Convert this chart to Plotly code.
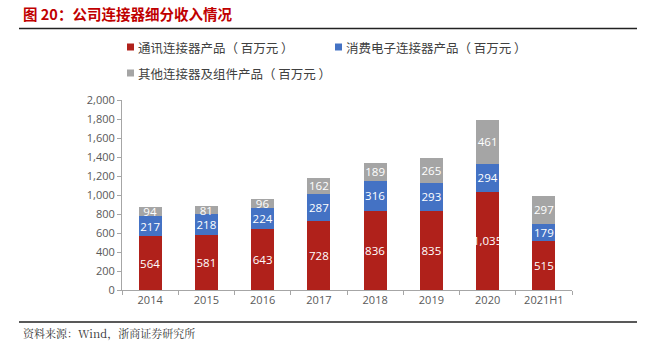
import plotly.graph_objects as go

categories = ["2014", "2015", "2016", "2017", "2018", "2019", "2020", "2021H1"]
telecom = [564, 581, 643, 728, 836, 835, 1035, 515]
consumer = [217, 218, 224, 287, 316, 293, 294, 179]
other = [94, 81, 96, 162, 189, 265, 461, 297]
series_names = ["通讯连接器产品（ 百万元 ）", "消费电子连接器产品（ 百万元 ）", "其他连接器及组件产品（ 百万元 ）"]
colors = ["#B0211B", "#4472C4", "#A5A5A5"]

FONT = "Noto Sans CJK SC"

fig = go.Figure()
for name, vals, col in zip(series_names, [telecom, consumer, other], colors):
    fig.add_trace(go.Bar(
        x=categories, y=vals, name=name, marker_color=col, marker_line_width=0,
        text=vals, texttemplate="%{y:,}", textposition="inside", textangle=0,
        insidetextanchor="middle", constraintext="none",
        textfont=dict(color="white", size=11.5, family="Open Sans"),
    ))

fig.update_layout(
    barmode="stack", bargap=0.59,
    width=656, height=345,
    margin=dict(l=122, r=84, t=100, b=55),
    paper_bgcolor="white", plot_bgcolor="white",
    font=dict(family=FONT, color="#595959", size=11),
    showlegend=False,
    xaxis=dict(type="category", showline=True, linecolor="#A6A6A6", linewidth=1,
               ticks="outside", tickson="boundaries", ticklen=4, tickcolor="#A6A6A6",
               tickfont=dict(size=11, color="#595959", family="Open Sans"), range=[-0.5, 7.5]),
    yaxis=dict(range=[0, 2000], dtick=200, tickformat=",", showgrid=False,
               showline=True, linecolor="#A6A6A6", linewidth=1,
               ticks="outside", ticklen=4, tickcolor="#A6A6A6",
               tickfont=dict(size=11, color="#595959", family="Open Sans"), zeroline=False),
)

# title and source
fig.add_annotation(xref="paper", yref="paper", x=-0.224, y=1.0 + (100 - 14) / 190,
                   xanchor="left", yanchor="middle", showarrow=False,
                   text="<b>图 20：公司连接器细分收入情况</b>",
                   font=dict(size=14.5, color="#C00000", family=FONT))
fig.add_annotation(xref="paper", yref="paper", x=-0.224, y=-(333 - 290) / 190,
                   xanchor="left", yanchor="middle", showarrow=False,
                   text="资料来源：Wind，浙商证券研究所",
                   font=dict(size=11, color="#333333", family="Noto Serif CJK SC, serif"))

# rules
for yy in [28.5, 322]:
    fig.add_shape(type="line", xref="paper", yref="paper",
                  x0=(19 - 122) / 450, x1=(637 - 122) / 450,
                  y0=(290 - yy) / 190, y1=(290 - yy) / 190,
                  line=dict(color="#222222", width=1.5))

# custom legend
legend_pos = [(127, 47), (335, 47), (127, 73)]
for (lx, ly), name, col in zip(legend_pos, series_names, colors):
    fig.add_shape(type="rect", xref="paper", yref="paper",
                  x0=(lx - 122) / 450, x1=(lx + 7 - 122) / 450,
                  y0=(290 - ly - 3.5) / 190, y1=(290 - ly + 3.5) / 190,
                  fillcolor=col, line_width=0)
    fig.add_annotation(xref="paper", yref="paper", x=(lx + 9 - 122) / 450,
                       y=(290 - ly) / 190, xanchor="left", yanchor="middle",
                       showarrow=False, text=name,
                       font=dict(size=12.5, color="#404040", family=FONT))

fig.write_html("out.html")
